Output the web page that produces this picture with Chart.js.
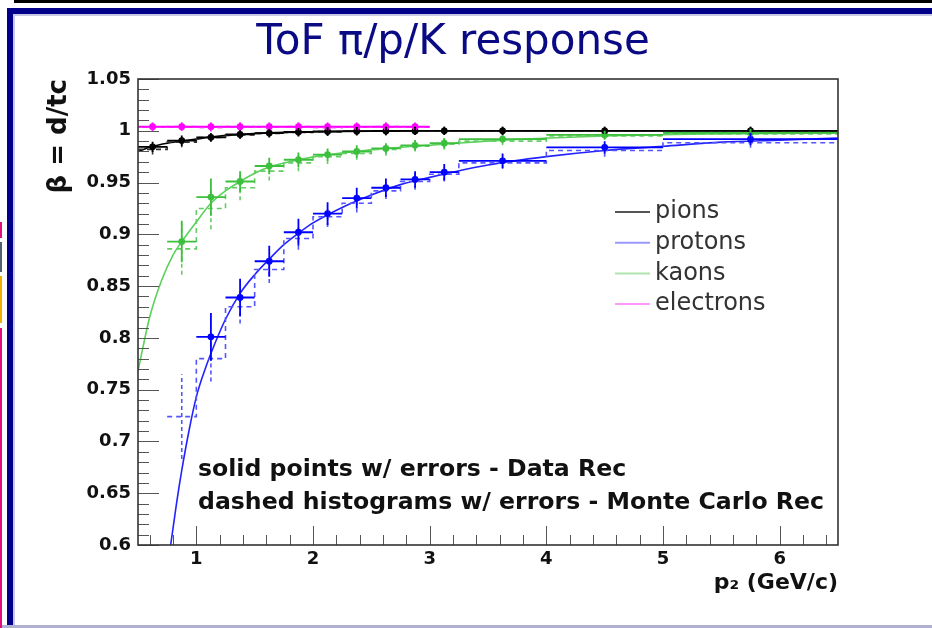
<!DOCTYPE html>
<html><head><meta charset="utf-8">
<script src="https://cdn.jsdelivr.net/npm/chart.js@4.4.1/dist/chart.umd.min.js"></script>
<style>
html,body{margin:0;padding:0;background:#fff;width:932px;height:628px;overflow:hidden;}
#wrap{position:relative;width:932px;height:628px;}
canvas{position:absolute;left:0;top:0;}
.f{position:absolute;}
</style></head><body>
<div id="wrap">
<canvas id="c" width="932" height="628"></canvas>
<div class="f" style="left:14px;top:0;width:918px;height:3px;background:#000"></div>
<div class="f" style="left:7px;top:8px;width:925px;height:6px;background:#00008b"></div>
<div class="f" style="left:7px;top:8px;width:6px;height:620px;background:#00008b"></div>
<div class="f" style="left:13px;top:14px;width:919px;height:2px;background:#c8c8e6"></div>
<div class="f" style="left:13px;top:14px;width:2px;height:614px;background:#c8c8e6"></div>
<div class="f" style="left:0;top:625px;width:932px;height:3px;background:#b0b0d0"></div>
<div class="f" style="left:0;top:222px;width:2px;height:16px;background:#e0107a"></div>
<div class="f" style="left:0;top:242px;width:2px;height:30px;background:#506070"></div>
<div class="f" style="left:0;top:276px;width:2px;height:47px;background:#f0b000"></div>
<div class="f" style="left:0;top:328px;width:2px;height:300px;background:#e0107a"></div>
</div>
<script>
// ---- data ----
const binEdges = [0.5, 0.75, 1.0, 1.25, 1.5, 1.75, 2.0, 2.25, 2.5, 2.75, 3.0, 3.25, 4.0, 5.0, 6.5];
const xTickLabels = [1, 2, 3, 4, 5, 6];
const yTickLabels = [0.6, 0.65, 0.7, 0.75, 0.8, 0.85, 0.9, 0.95, 1.0, 1.05];
const legendLabels = ['pions', 'protons', 'kaons', 'electrons'];

const pionData  = [0.9845, 0.9905, 0.9937, 0.9965, 0.9978, 0.9988, 0.9993, 0.9996, 0.9998, 0.9999, 1.0, 1.0, 1.0, 1.0];
const pionErr   = [0.005, 0.005, 0.004, 0.004, 0.004, 0.004, 0.004, 0.004, 0.004, 0.004, 0.004, 0.004, 0.004, 0.004];
const pionMC    = [0.982, 0.989, 0.9935, 0.996, 0.9975, 0.9985, 0.9992, 0.9995, 0.9998, 1.0, 1.0, 1.0, 1.0, 1.0];
const pionMCErr = [0.005, 0.005, 0.004, 0.004, 0.004, 0.004, 0.004, 0.004, 0.004, 0.004, 0.004, 0.004, 0.004, 0.004];

const protonData  = [null, null, 0.801, 0.839, 0.874, 0.902, 0.920, 0.935, 0.945, 0.953, 0.960, 0.971, 0.984, 0.992];
const protonErr   = [null, null, 0.023, 0.018, 0.015, 0.013, 0.011, 0.010, 0.009, 0.008, 0.008, 0.007, 0.006, 0.006];
const protonMC    = [null, 0.724, 0.780, 0.830, 0.866, 0.896, 0.917, 0.930, 0.942, 0.951, 0.958, 0.969, 0.981, 0.9885];
const protonMCErr = [null, 0.041, 0.022, 0.016, 0.013, 0.011, 0.010, 0.009, 0.008, 0.008, 0.007, 0.006, 0.006, 0.005];

const kaonData  = [null, 0.893, 0.936, 0.951, 0.966, 0.972, 0.977, 0.980, 0.983, 0.986, 0.988, 0.992, 0.996, 0.998];
const kaonErr   = [null, 0.020, 0.018, 0.010, 0.008, 0.007, 0.006, 0.006, 0.005, 0.005, 0.005, 0.004, 0.004, 0.004];
const kaonMC    = [null, 0.886, 0.925, 0.945, 0.961, 0.969, 0.975, 0.978, 0.982, 0.985, 0.987, 0.990, 0.995, 0.997];
const kaonMCErr = [null, 0.025, 0.020, 0.012, 0.009, 0.008, 0.007, 0.006, 0.006, 0.005, 0.005, 0.004, 0.004, 0.004];

const electronData  = [1.004, 1.004, 1.004, 1.004, 1.004, 1.004, 1.004, 1.004, 1.004, 1.004, null, null, null, null];
const electronErr   = [0.004, 0.004, 0.004, 0.004, 0.004, 0.004, 0.004, 0.004, 0.004, 0.004, null, null, null, null];
const electronMC    = [1.0035, 1.004, 1.003, 1.004, 1.0035, 1.004, 1.003, 1.0035, 1.004, 1.0035, null, null, null, null];
const electronMCErr = [0.004, 0.004, 0.004, 0.004, 0.004, 0.004, 0.004, 0.004, 0.004, 0.004, null, null, null, null];

// fitted curves
const pionFitX = [0.5, 0.625, 0.75, 0.875, 1.0, 1.125, 1.375, 1.625, 2.0, 2.5, 3.0, 6.5];
const pionFitY = [0.980, 0.985, 0.988, 0.990, 0.992, 0.994, 0.9965, 0.998, 0.999, 0.9997, 1.0, 1.0];
const protonFitX = [0.78, 0.83, 0.875, 0.94, 1.0, 1.06, 1.125, 1.25, 1.375, 1.5, 1.625, 1.75, 1.875, 2.0, 2.25, 2.5, 2.75, 3.0, 3.5, 4.0, 4.5, 5.0, 5.5, 6.0, 6.5];
const protonFitY = [0.600, 0.640, 0.672, 0.712, 0.743, 0.765, 0.785, 0.818, 0.843, 0.861, 0.876, 0.890, 0.901, 0.911, 0.926, 0.938, 0.948, 0.955, 0.967, 0.975, 0.981, 0.985, 0.989, 0.991, 0.993];
const kaonFitX = [0.5, 0.6, 0.7, 0.8, 0.875, 1.0, 1.125, 1.25, 1.375, 1.5, 1.625, 1.875, 2.125, 2.375, 2.625, 2.875, 3.125, 3.625, 4.5, 5.5, 6.5];
const kaonFitY = [0.768, 0.820, 0.855, 0.880, 0.893, 0.912, 0.930, 0.942, 0.951, 0.959, 0.965, 0.972, 0.977, 0.980, 0.983, 0.985, 0.987, 0.991, 0.995, 0.997, 0.998];
const electronFitX = [0.5, 3.0];
const electronFitY = [1.0035, 1.0035];

const species = [
  {name:'electrons', data:electronData, err:electronErr, mc:electronMC, mcErr:electronMCErr, fitX:electronFitX, fitY:electronFitY,
   color:'#ff00ff', fit:'#ff33ff', mcColor:'#ff66ff', legend:'#ff99ff'},
  {name:'pions', data:pionData, err:pionErr, mc:pionMC, mcErr:pionMCErr, fitX:pionFitX, fitY:pionFitY,
   color:'#000000', fit:'#000000', mcColor:'#333333', legend:'#555555'},
  {name:'kaons', data:kaonData, err:kaonErr, mc:kaonMC, mcErr:kaonMCErr, fitX:kaonFitX, fitY:kaonFitY,
   color:'#3cbf3c', fit:'#5ad25a', mcColor:'#66cc66', legend:'#b0e4b0'},
  {name:'protons', data:protonData, err:protonErr, mc:protonMC, mcErr:protonMCErr, fitX:protonFitX, fitY:protonFitY,
   color:'#0000ff', fit:'#2222ff', mcColor:'#5555ff', legend:'#9999ff'}
];
const legendOrder = ['pions', 'protons', 'kaons', 'electrons'];

const center = i => (binEdges[i] + binEdges[i + 1]) / 2;

const datasets = [];
species.forEach(s => {
  const pts = [];
  s.data.forEach((v, i) => { if (v !== null) pts.push({x: center(i), y: v}); });
  datasets.push({type:'scatter', label:s.name + ' data', data:pts, pointRadius:3.4, pointHoverRadius:3.4,
    backgroundColor:s.color, borderColor:s.color, borderWidth:0});
});
species.forEach(s => {
  const hist = [];
  s.mc.forEach((v, i) => { if (v !== null) { hist.push({x: binEdges[i], y: v}); hist.push({x: binEdges[i + 1], y: v}); } });
  datasets.push({type:'line', label:s.name + ' MC', data:hist, borderColor:s.mcColor, borderWidth:1.6,
    borderDash:[5, 4], pointRadius:0, tension:0, fill:false});
});
species.forEach(s => {
  datasets.push({type:'line', label:s.name + ' fit', data:s.fitX.map((x, i) => ({x, y:s.fitY[i]})),
    borderColor:s.fit, borderWidth:1.6, pointRadius:0, cubicInterpolationMode:'monotone', fill:false});
});

const bold = (size) => ({family:'DejaVu Sans', size, weight:'bold'});

const decorPlugin = {
  id:'decor',
  afterDatasetsDraw(chart) {
    const {ctx, chartArea:ca, scales:{x:xs, y:ys}} = chart;
    ctx.save();
    ctx.beginPath(); ctx.rect(ca.left, ca.top, ca.width, ca.height); ctx.clip();
    species.forEach(s => {
      ctx.strokeStyle = s.mcColor; ctx.lineWidth = 1.6; ctx.setLineDash([4, 3]);
      s.mc.forEach((v, i) => {
        if (v === null) return;
        const px = xs.getPixelForValue(center(i));
        ctx.beginPath();
        ctx.moveTo(px, ys.getPixelForValue(v - s.mcErr[i]));
        ctx.lineTo(px, ys.getPixelForValue(v + s.mcErr[i]));
        ctx.stroke();
      });
      ctx.setLineDash([]); ctx.strokeStyle = s.color; ctx.lineWidth = 1.8;
      s.data.forEach((v, i) => {
        if (v === null) return;
        const px = xs.getPixelForValue(center(i)), py = ys.getPixelForValue(v);
        ctx.beginPath();
        ctx.moveTo(xs.getPixelForValue(binEdges[i]), py);
        ctx.lineTo(xs.getPixelForValue(binEdges[i + 1]), py);
        ctx.moveTo(px, ys.getPixelForValue(v - s.err[i]));
        ctx.lineTo(px, ys.getPixelForValue(v + s.err[i]));
        ctx.stroke();
      });
    });
    ctx.restore();
  },
  afterDraw(chart) {
    const {ctx, chartArea:ca, scales:{x:xs, y:ys}} = chart;
    ctx.save();
    ctx.strokeStyle = '#555'; ctx.lineWidth = 1;
    for (let k = 0; k <= 45; k++) {
      const py = Math.round(ys.getPixelForValue(0.6 + k * 0.01)) + 0.5;
      const len = (k % 5 === 0) ? 21 : 11;
      ctx.beginPath(); ctx.moveTo(ca.left, py); ctx.lineTo(ca.left + len, py); ctx.stroke();
    }
    for (let k = 3; k <= 32; k++) {
      const px = Math.round(xs.getPixelForValue(k * 0.2)) + 0.5;
      const len = (k % 5 === 0) ? 19 : 10;
      ctx.beginPath(); ctx.moveTo(px, ca.bottom); ctx.lineTo(px, ca.bottom - len); ctx.stroke();
    }
    ctx.strokeStyle = '#333'; ctx.lineWidth = 1.6;
    ctx.strokeRect(ca.left, ca.top, ca.width, ca.height);
    ctx.font = '24px "DejaVu Sans"'; ctx.textBaseline = 'middle'; ctx.textAlign = 'left';
    legendOrder.forEach((n, i) => {
      const s = species.find(q => q.name === n);
      const y = 212 + i * 30.7;
      ctx.strokeStyle = s.legend; ctx.lineWidth = 2;
      ctx.beginPath(); ctx.moveTo(615, y); ctx.lineTo(650, y); ctx.stroke();
      ctx.fillStyle = '#333';
      ctx.fillText(legendLabels[i], 655, y);
    });
    ctx.fillStyle = '#111'; ctx.font = 'bold 23.6px "DejaVu Sans"';
    ctx.fillText('solid points w/ errors - Data Rec', 198, 470);
    ctx.fillText('dashed histograms w/ errors - Monte Carlo Rec', 198, 503);
    ctx.restore();
  }
};

new Chart(document.getElementById('c'), {
  data:{datasets},
  options:{
    responsive:false, animation:false, devicePixelRatio:1,
    layout:{padding:{left:68, right:94, top:0, bottom:0}},
    plugins:{
      legend:{display:false}, tooltip:{enabled:false},
      title:{display:true, text:'ToF π/p/K response', color:'#0a0a85',
        font:{family:'DejaVu Sans', size:42, weight:'normal'}, padding:{top:18, bottom:10.6}}
    },
    scales:{
      x:{type:'linear', min:0.5, max:6.5,
        afterBuildTicks:s => { s.ticks = xTickLabels.map(v => ({value:v})); },
        afterFit:s => { s.height = 83; },
        grid:{display:false, drawTicks:false}, border:{display:false},
        ticks:{font:bold(18), color:'#111', padding:4, maxRotation:0, autoSkip:false, callback:v => String(v)},
        title:{display:true, text:'p₂ (GeV/c)', align:'end', color:'#111', font:bold(22), padding:{top:0, bottom:32}}},
      y:{type:'linear', min:0.6, max:1.05,
        afterBuildTicks:s => { s.ticks = yTickLabels.map(v => ({value:v})); },
        afterFit:s => { s.width = 70; },
        grid:{display:false, drawTicks:false}, border:{display:false},
        ticks:{font:bold(18), color:'#111', padding:7, autoSkip:false, callback:v => String(Number(v.toFixed(2)))},
        title:{display:true, text:'β = d/tc', align:'end', color:'#111', font:bold(26), padding:{top:-24, bottom:0}}}
    }
  },
  plugins:[decorPlugin]
});
</script>
</body></html>
